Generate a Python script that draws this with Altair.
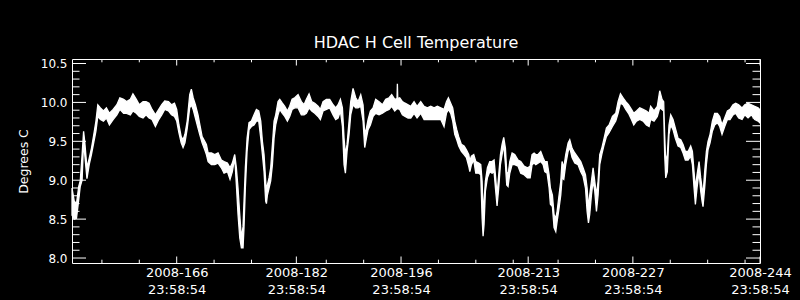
import altair as alt
import pandas as pd

# ---- data: day-of-year 2008 (fractional), lower/upper envelope of temperature (deg C)
days_a = [153.0, 153.3, 153.6, 153.9, 154.1, 154.35, 154.55, 154.7, 155.0, 155.3, 155.6, 155.9, 156.2, 156.45, 156.8,
          157.2, 157.6, 158.0, 158.5, 159.0, 159.4, 159.9, 160.3, 160.8, 161.15, 161.6, 162.0, 162.5, 162.9, 163.3,
          163.7, 164.15, 164.6, 165.0, 165.4, 165.9, 166.3, 166.7, 167.0, 167.3, 167.6, 167.85, 168.1, 168.4]
lo_a = [8.55, 8.50, 8.51, 8.75, 8.92, 9.00, 9.50, 9.33, 9.02, 9.20, 9.33, 9.48, 9.63, 9.82, 9.78, 9.76, 9.80, 9.71,
        9.78, 9.84, 9.91, 9.86, 9.86, 9.84, 9.89, 9.86, 9.82, 9.80, 9.84, 9.80, 9.78, 9.69, 9.78, 9.84, 9.91, 9.89,
        9.84, 9.82, 9.76, 9.61, 9.48, 9.42, 9.48, 9.66]
hi_a = [8.90, 8.73, 8.70, 8.92, 8.99, 9.33, 9.63, 9.50, 9.16, 9.28, 9.41, 9.58, 9.76, 9.97, 9.93, 9.89, 9.93, 9.86,
        9.91, 9.97, 10.06, 10.04, 10.01, 10.04, 10.11, 10.04, 9.97, 10.01, 10.01, 9.99, 9.91, 9.84, 9.91, 9.97, 10.02,
        10.01, 9.97, 9.99, 9.91, 9.71, 9.56, 9.52, 9.59, 9.76]

days_b = [168.74, 168.96, 169.2, 169.5, 169.85, 170.1, 170.4, 170.75, 170.97, 171.2, 171.64, 172.08, 172.53, 172.97,
          173.33, 173.78, 174.13, 174.44, 174.76, 174.98, 175.2, 175.43, 175.65, 175.87, 176.0, 176.18, 176.41,
          176.67, 176.99, 177.34, 177.66, 177.97, 178.24, 178.46, 178.68, 178.9, 179.0, 179.13, 179.35, 179.57,
          179.8, 180.02, 180.24, 180.55, 180.78, 181.13, 181.45, 181.8, 182.11, 182.43, 182.78, 183.23, 183.67]
lo_b = [9.93, 9.97, 9.91, 9.80, 9.67, 9.58, 9.48, 9.39, 9.33, 9.24, 9.20, 9.20, 9.22, 9.16, 9.09, 9.11, 9.01, 9.11,
        9.29, 8.94, 8.56, 8.26, 8.13, 8.13, 8.39, 8.90, 9.37, 9.65, 9.69, 9.71, 9.76, 9.76, 9.54, 9.33, 9.11, 8.73,
        8.70, 8.81, 8.90, 8.99, 9.20, 9.54, 9.71, 9.84, 9.91, 9.86, 9.82, 9.76, 9.82, 9.91, 9.93, 9.93, 9.84]
hi_b = [10.10, 10.17, 10.06, 9.97, 9.84, 9.71, 9.56, 9.50, 9.46, 9.35, 9.35, 9.33, 9.35, 9.26, 9.24, 9.22, 9.16,
        9.22, 9.33, 9.16, 8.90, 8.56, 8.26, 8.40, 8.73, 9.16, 9.54, 9.74, 9.76, 9.84, 9.91, 9.89, 9.76, 9.50, 9.33,
        8.99, 8.85, 8.94, 9.03, 9.16, 9.46, 9.76, 9.84, 10.01, 10.04, 9.99, 9.95, 9.89, 9.95, 10.04, 10.06, 10.10,
        10.01]

days_c = [184.03, 184.34, 184.7, 185.06, 185.46, 185.9, 186.21, 186.57, 187.02, 187.46, 187.91, 188.26, 188.58,
          188.89, 189.16, 189.38, 189.56, 189.78, 190.05, 190.27, 190.58, 190.94, 191.25, 191.61, 191.92, 192.14,
          192.37, 192.59, 192.9, 193.26, 193.61, 194.06, 194.51, 194.95, 195.4, 195.75, 196.16, 196.46, 196.51,
          196.56, 196.82, 197.18, 197.54, 197.94, 198.3, 198.74, 199.14]
lo_c = [9.84, 9.86, 9.93, 9.89, 9.86, 9.82, 9.78, 9.89, 9.91, 9.93, 9.84, 9.78, 9.80, 9.89, 9.69, 9.20, 9.09, 9.37,
        9.59, 9.84, 9.97, 9.93, 9.93, 9.95, 9.76, 9.42, 9.54, 9.65, 9.71, 9.82, 9.86, 9.84, 9.86, 9.89, 9.91, 9.95,
        9.89, 9.92, 9.93, 9.92, 9.91, 9.84, 9.82, 9.80, 9.80, 9.86, 9.80]
hi_c = [9.97, 10.04, 10.11, 10.01, 9.99, 9.95, 9.91, 10.01, 10.04, 10.04, 9.97, 9.93, 9.97, 10.04, 9.93, 9.54, 9.33,
        9.46, 9.76, 10.01, 10.18, 10.06, 10.01, 10.10, 9.97, 9.59, 9.67, 9.78, 9.89, 9.93, 10.04, 10.01, 9.97, 10.04,
        10.06, 10.10, 10.04, 10.05, 10.24, 10.05, 10.06, 10.01, 9.99, 9.97, 9.95, 10.01, 9.95]

days_d = [199.63, 200.08, 200.52, 200.97, 201.42, 201.86, 202.31, 202.75, 203.07, 203.33, 203.64, 203.91, 204.18,
          204.45, 204.71, 205.07, 205.43, 205.74, 206.05, 206.2, 206.41, 206.72, 206.99, 207.39, 207.66, 207.84,
          207.97, 208.1, 208.28, 208.55, 208.86, 209.17, 209.44, 209.62, 209.84, 210.06, 210.29, 210.51, 210.73,
          210.96, 211.13, 211.31, 211.54, 211.85, 212.2, 212.65, 213.01, 213.45, 213.9, 214.26, 214.52, 214.79]
lo_d = [9.86, 9.78, 9.78, 9.78, 9.78, 9.78, 9.78, 9.69, 9.86, 9.91, 9.86, 9.76, 9.59, 9.52, 9.44, 9.37, 9.33, 9.29,
        9.18, 9.11, 9.20, 9.26, 9.09, 9.09, 9.07, 8.51, 8.28, 8.43, 8.86, 9.03, 9.11, 9.09, 9.11, 8.90, 8.67, 8.90,
        9.20, 9.33, 9.46, 9.20, 8.94, 8.92, 9.09, 9.20, 9.20, 9.18, 9.09, 9.07, 9.03, 9.03, 9.20, 9.22]
hi_d = [10.01, 9.95, 9.93, 9.95, 9.93, 9.95, 9.93, 9.91, 10.01, 10.06, 9.99, 9.93, 9.76, 9.65, 9.56, 9.46, 9.44,
        9.39, 9.33, 9.25, 9.31, 9.33, 9.24, 9.22, 9.20, 8.99, 8.60, 8.73, 8.99, 9.16, 9.24, 9.24, 9.26, 9.07, 8.81,
        9.07, 9.33, 9.46, 9.55, 9.41, 9.11, 9.07, 9.24, 9.35, 9.33, 9.26, 9.24, 9.18, 9.16, 9.18, 9.33, 9.35]

days_e = [215.01, 215.32, 215.68, 216.0, 216.22, 216.53, 216.8, 216.97, 217.24, 217.46, 217.69, 217.87, 218.13,
          218.36, 218.53, 218.76, 219.02, 219.34, 219.56, 219.87, 220.23, 220.67, 221.03, 221.34, 221.66, 221.88,
          222.06, 222.23, 222.46, 222.68, 222.9, 223.13, 223.35, 223.57, 223.84, 224.11, 224.46, 224.82, 225.27,
          225.71, 226.02, 226.34, 226.69, 227.05, 227.41, 227.81, 228.12, 228.48, 228.92, 229.37, 229.81, 230.17]
lo_e = [9.20, 9.22, 9.24, 9.20, 9.11, 9.09, 8.90, 8.69, 8.66, 8.39, 8.34, 8.47, 8.64, 8.81, 9.03, 9.01, 9.20, 9.37,
        9.42, 9.29, 9.22, 9.20, 9.11, 9.05, 8.90, 8.60, 8.45, 8.56, 8.81, 8.99, 8.86, 8.60, 8.81, 9.20, 9.33, 9.44,
        9.56, 9.61, 9.69, 9.76, 9.86, 9.99, 9.97, 9.91, 9.86, 9.78, 9.71, 9.76, 9.78, 9.76, 9.71, 9.69]
hi_e = [9.33, 9.33, 9.37, 9.29, 9.24, 9.24, 9.07, 8.90, 8.81, 8.56, 8.51, 8.60, 8.81, 8.99, 9.24, 9.16, 9.33, 9.48,
        9.52, 9.41, 9.35, 9.29, 9.24, 9.16, 9.07, 8.90, 8.64, 8.81, 8.99, 9.16, 8.99, 8.81, 8.99, 9.33, 9.41, 9.52,
        9.67, 9.71, 9.82, 9.86, 10.01, 10.11, 10.06, 10.01, 9.97, 9.91, 9.86, 9.89, 9.93, 9.91, 9.89, 9.86]

days_f = [230.38, 230.83, 231.27, 231.59, 231.9, 232.12, 232.25, 232.39, 232.61, 232.83, 233.06, 233.37, 233.68,
          234.04, 234.4, 234.71, 235.02, 235.38, 235.73, 235.96, 236.18, 236.36, 236.58, 236.85, 237.07, 237.25,
          237.38, 237.6, 237.83, 238.05, 238.32, 238.63, 238.94, 239.3, 239.61, 239.92, 240.28, 240.64, 240.99,
          241.39, 241.75, 242.15, 242.6, 242.96, 243.4, 243.85, 244.29, 244.74, 244.96]
lo_f = [9.78, 9.76, 9.82, 9.93, 9.91, 9.89, 9.33, 9.03, 9.11, 9.59, 9.71, 9.65, 9.54, 9.44, 9.42, 9.35, 9.26, 9.26,
        9.31, 9.20, 8.90, 8.69, 8.90, 9.11, 8.86, 8.73, 8.66, 8.90, 9.20, 9.39, 9.48, 9.63, 9.71, 9.74, 9.69, 9.59,
        9.69, 9.78, 9.78, 9.84, 9.86, 9.80, 9.78, 9.84, 9.80, 9.84, 9.78, 9.76, 9.74]
hi_f = [9.95, 9.89, 9.95, 10.15, 10.04, 10.01, 9.59, 9.24, 9.33, 9.71, 9.84, 9.78, 9.67, 9.54, 9.52, 9.46, 9.37,
        9.37, 9.44, 9.37, 9.11, 8.90, 9.07, 9.24, 9.03, 8.90, 8.81, 9.11, 9.37, 9.50, 9.59, 9.76, 9.86, 9.86, 9.82,
        9.71, 9.80, 9.89, 9.91, 9.97, 9.99, 9.97, 9.93, 9.97, 9.99, 9.97, 9.95, 9.93, 9.91]

# ---- axis content
year = 2008
major_days = [166, 182, 196, 213, 227, 244]
tick_time = "23:58:54"
frac = (23 * 3600 + 58 * 60 + 54) / 86400
major_x = [d + frac for d in major_days]
minor_x = [157, 162, 172, 177, 187, 192, 202, 207, 212, 218, 223, 233, 238, 243]
y_major = [8.0, 8.5, 9.0, 9.5, 10.0, 10.5]
y_minor = [round(8.0 + 0.1 * i, 1) for i in range(26) if i % 5]
x_domain = [152 + frac, 244 + frac + 0.0001]
y_domain = [7.936, 10.558]
title_text = "HDAC H Cell Temperature"
y_title = "Degrees C"

days = days_a + days_b + days_c + days_d + days_e + days_f
lo = lo_a + lo_b + lo_c + lo_d + lo_e + lo_f
hi = hi_a + hi_b + hi_c + hi_d + hi_e + hi_f
assert len(days) == len(lo) == len(hi), (len(days), len(lo), len(hi))

df = pd.DataFrame({"day": days, "lo": lo, "hi": hi})

W, H = 688, 204
FONT = "DejaVu Sans"
xs = alt.Scale(domain=x_domain, nice=False, zero=False)
ys = alt.Scale(domain=y_domain, nice=False, zero=False)

# inward-pointing tick marks on all four sides (IDL box style)
X_MAJ, X_MIN, Y_MAJ, Y_MIN = 6.5, 3.3, 14, 7.5


def xticks(vals, length, at_bottom):
    y0 = H if at_bottom else 0
    y1 = H - length if at_bottom else length
    return alt.Chart(pd.DataFrame({"tv": vals})).mark_rule(color="white", strokeWidth=1).encode(
        x=alt.X("tv:Q", scale=xs, axis=None), y=alt.value(y0), y2=alt.value(y1))


def yticks(vals, length, at_left):
    x0 = 0 if at_left else W
    x1 = length if at_left else W - length
    return alt.Chart(pd.DataFrame({"tv": vals})).mark_rule(color="white", strokeWidth=1).encode(
        y=alt.Y("tv:Q", scale=ys, axis=None), x=alt.value(x0), x2=alt.value(x1))


label_expr = "['%d-' + floor(datum.value), '%s']" % (year, tick_time)

x_label_axis = alt.Axis(orient="bottom", values=major_x, ticks=False, domain=False, grid=False,
                        title=None, labelExpr=label_expr, labelColor="white", labelFont=FONT, labelFontSize=13,
                        labelPadding=3, labelLineHeight=17, labelBaseline="top", labelFlush=False,
                        labelOverlap=False)
y_label_axis = alt.Axis(orient="left", values=y_major, ticks=False, domain=False, grid=False,
                        format=".1f", labelColor="white", labelFont=FONT, labelFontSize=12, labelPadding=5,
                        title=y_title, titleColor="white", titleFont=FONT, titleFontSize=12.5,
                        titleFontWeight="normal", titleX=-49, titleY=H / 2, titleAngle=270,
                        titleAlign="center", titleBaseline="middle")

area = alt.Chart(df).mark_area(color="white", stroke="white", strokeWidth=1.3, interpolate="linear").encode(
    x=alt.X("day:Q", scale=xs, axis=x_label_axis),
    y=alt.Y("lo:Q", scale=ys, axis=y_label_axis),
    y2="hi:Q",
)

layers = [
    area,
    xticks(major_x, X_MAJ, True), xticks(major_x, X_MAJ, False),
    xticks(minor_x, X_MIN, True), xticks(minor_x, X_MIN, False),
    yticks(y_major, Y_MAJ, True), yticks(y_major, Y_MAJ, False),
    yticks(y_minor, Y_MIN, True), yticks(y_minor, Y_MIN, False),
]

chart = alt.layer(*layers).resolve_axis(x="independent", y="independent").properties(
    width=W, height=H,
    title=alt.TitleParams(title_text, fontSize=16, font=FONT, fontWeight="normal", color="white", offset=7,
                          anchor="middle"),
    autosize=alt.AutoSizeParams(type="none"),
    padding={"left": 72, "top": 59, "right": 40, "bottom": 37},
).configure(background="black").configure_view(stroke="white", strokeWidth=1)

chart.save("out.html", embed_options={"renderer": "svg", "actions": False})
